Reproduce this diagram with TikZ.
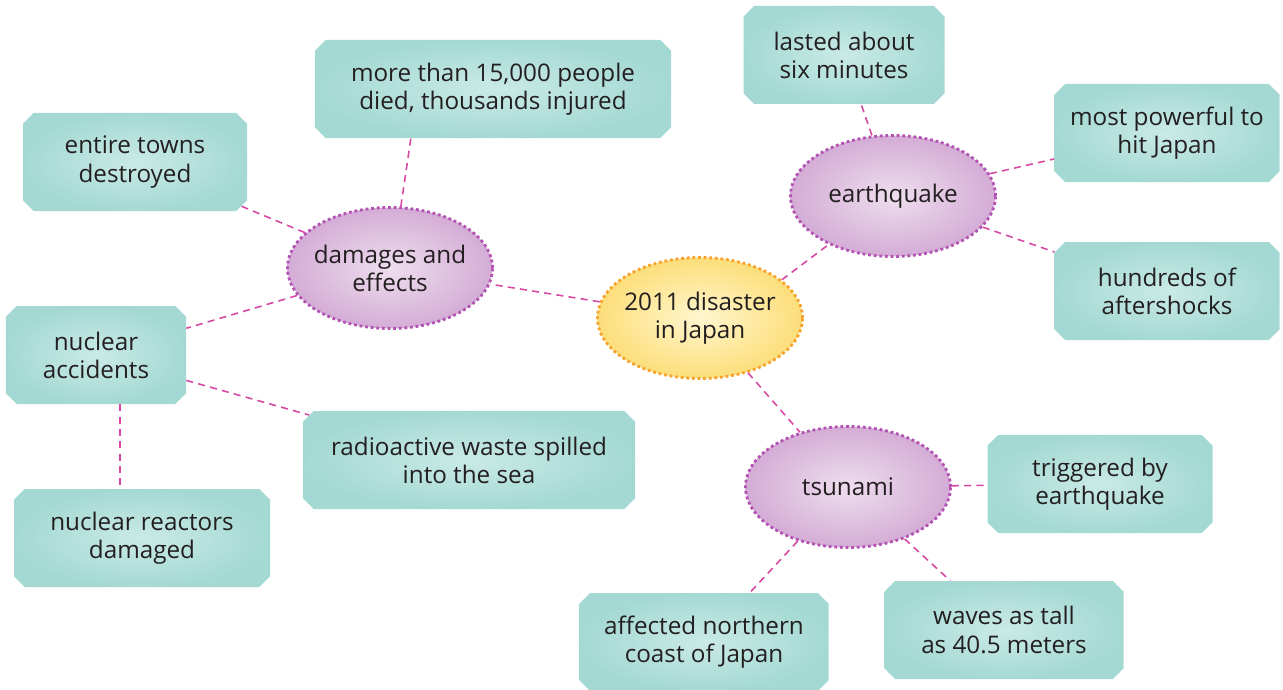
\documentclass[tikz,border=0pt]{standalone}
\usepackage{fontspec}
\setmainfont{Open Sans}
\usetikzlibrary{shapes.misc,shapes.geometric}
\definecolor{boxout}{RGB}{164,217,211}
\definecolor{boxin}{RGB}{202,234,230}
\definecolor{lilacout}{RGB}{212,172,214}
\definecolor{lilacin}{RGB}{238,222,238}
\definecolor{lilacrim}{RGB}{178,82,178}
\definecolor{sunout}{RGB}{252,222,122}
\definecolor{sunin}{RGB}{255,246,206}
\definecolor{sunrim}{RGB}{246,162,44}
\definecolor{linkpink}{RGB}{214,72,162}
\definecolor{ink}{RGB}{35,31,32}
\begin{document}
\begin{tikzpicture}[
  fact/.style={chamfered rectangle, chamfered rectangle xsep=3pt, chamfered rectangle ysep=3pt,
               inner color=boxin, outer color=boxout, minimum height=1.96cm, text=ink,
               align=center, font=\fontsize{13.8}{16}\selectfont},
  topic/.style={ellipse, inner color=lilacin, outer color=lilacout, draw=lilacrim,
                line width=1.6pt, dash pattern=on 1.6pt off 1.6pt, text=ink,
                minimum width=4.1cm, minimum height=2.42cm, inner sep=-8pt,
                align=center, font=\fontsize{13.8}{16}\selectfont},
  hub/.style={topic, inner color=sunin, outer color=sunout, draw=sunrim},
  link/.style={linkpink, line width=0.9pt, dash pattern=on 4pt off 3pt},
]
\useasboundingbox (0,0) rectangle (25.66,-13.8);
% centre and main topics
\node[hub]   (japan)  at (14.00,-6.36) {2011 disaster\\in Japan};
\node[topic] (damage) at (7.80,-5.36)  {damages and\\effects};
\node[topic] (quake)  at (17.86,-3.92) {earthquake};
\node[topic] (wave)   at (16.96,-9.74) {tsunami};
% facts
\node[fact, minimum width=7.12cm] (died)    at (9.86,-1.78)   {more than 15,000 people\\died, thousands injured};
\node[fact, minimum width=4.48cm] (towns)   at (2.70,-3.24)   {entire towns\\destroyed};
\node[fact, minimum width=3.60cm] (nuclear) at (1.92,-7.10)   {nuclear\\accidents};
\node[fact, minimum width=6.64cm] (waste)   at (9.38,-9.20)   {radioactive waste spilled\\into the sea};
\node[fact, minimum width=5.12cm] (reactor) at (2.84,-10.76)  {nuclear reactors\\damaged};
\node[fact, minimum width=4.02cm] (lasted)  at (16.88,-1.10)  {lasted about\\six minutes};
\node[fact, minimum width=4.50cm] (power)   at (23.34,-2.66)  {most powerful to\\hit Japan};
\node[fact, minimum width=4.50cm] (after)   at (23.34,-5.82)  {hundreds of\\aftershocks};
\node[fact, minimum width=4.50cm] (trigger) at (22.00,-9.68)  {triggered by\\earthquake};
\node[fact, minimum width=4.78cm] (tall)    at (20.08,-12.60) {waves as tall\\as 40.5 meters};
\node[fact, minimum width=4.98cm] (coast)   at (14.08,-12.84) {affected northern\\coast of Japan};
% connectors
\draw[link] (japan)--(damage); \draw[link] (japan.25)--(quake); \draw[link] (japan)--(wave);
\draw[link] (damage.80)--(died.211); \draw[link] (damage)--(towns); \draw[link] (damage)--(nuclear);
\draw[link] (nuclear)--(waste); \draw[link] (nuclear.-64)--(nuclear.-64 |- reactor.north);
\draw[link] (quake)--(lasted); \draw[link] (quake)--(power); \draw[link] (quake)--(after);
\draw[link] (wave)--(trigger); \draw[link] (wave)--(tall); \draw[link] (wave)--(coast);
\end{tikzpicture}
\end{document}
